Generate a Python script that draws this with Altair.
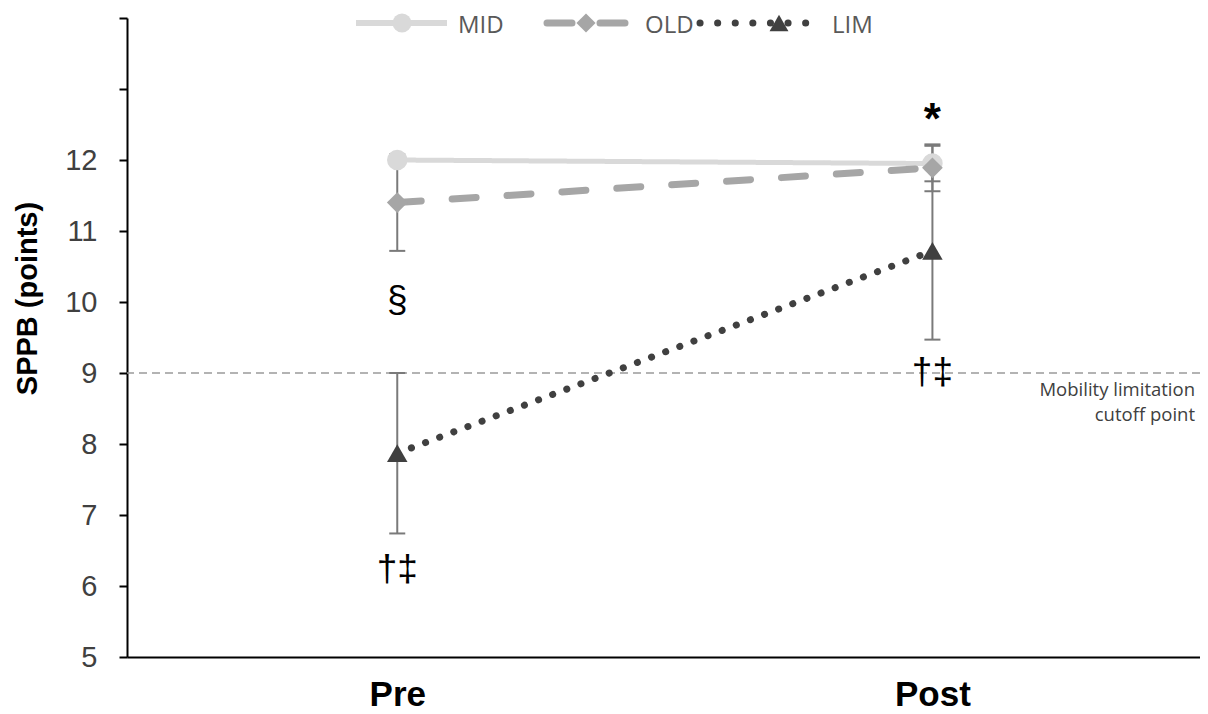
import altair as alt
import pandas as pd

# ---------------- data ----------------
groups = ["MID", "OLD", "LIM"]
time_labels = ["Pre", "Post"]
time_pos = [1, 2]
pre_mean = [12.0, 11.4, 7.87]
post_mean = [11.95, 11.89, 10.72]
pre_err = [0.0, 0.68, 1.13]
post_err = [0.25, 0.33, 1.25]

y_ticks = [5, 6, 7, 8, 9, 10, 11, 12, 13, 14]
cutoff_value = 9
cutoff_label = "Mobility limitation\ncutoff point"

annot_text = ["§", "†‡", "*", "†‡"]
annot_time = [1, 1, 2, 2]
annot_value = [10.02, 6.22, 12.55, 9.0]
annot_bold = [False, False, True, False]

# ---------------- styles ----------------
style = {
    "MID": dict(color="#d9d9d9", width=5, dash=[1, 0], cap="butt", shape="circle", size=420),
    "OLD": dict(color="#a6a6a6", width=7, dash=[24, 31], cap="round", shape="diamond", size=430),
    "LIM": dict(color="#404040", width=7, dash=[0.1, 15], cap="round", shape="triangle-up", size=420),
}

rows = []
for i, g in enumerate(groups):
    for t, m, e in ((time_pos[0], pre_mean[i], pre_err[i]), (time_pos[1], post_mean[i], post_err[i])):
        rows.append({"group": g, "t": t, "mean": m, "lo": m - e, "hi": m + e})
df = pd.DataFrame(rows)

ann = pd.DataFrame({"text": annot_text, "t": annot_time, "v": annot_value, "bold": annot_bold})

xs = alt.Scale(domain=[0.495, 2.5], nice=False, zero=False)
ys = alt.Scale(domain=[5, 14], nice=False, zero=False)

x_axis = alt.Axis(
    values=time_pos,
    labelExpr="datum.value == 1 ? 'Pre' : 'Post'",
    ticks=False, grid=False, title=None,
    domainColor="black", domainWidth=2,
    labelFont="Liberation Sans", labelFontSize=35, labelFontWeight="bold",
    labelColor="black", labelPadding=20,
)
y_axis = alt.Axis(
    values=y_ticks, format="d",
    labelExpr="datum.value <= 12 ? datum.label : ''",
    grid=False, title="SPPB (points)",
    domainColor="black", domainWidth=2,
    tickColor="black", tickWidth=2, tickSize=8,
    labelFont="Liberation Sans", labelFontSize=29, labelColor="#404040", labelPadding=22,
    titleFont="Liberation Sans", titleFontSize=29, titleFontWeight="bold", titleColor="black",
    titleX=-100, titleY=280, titleAngle=-90, titleAlign="center", titleBaseline="middle",
)

X = alt.X("t:Q", scale=xs, axis=x_axis)
Y = alt.Y("mean:Q", scale=ys, axis=y_axis)

base = alt.Chart(df)

cut_df = pd.DataFrame({"y": [cutoff_value], "t": [xs.domain[1]], "label": [cutoff_label]})
cut_rule = alt.Chart(cut_df).mark_rule(color="#9a9a9a", strokeDash=[8, 5], strokeWidth=1.5).encode(
    y=alt.Y("y:Q", scale=ys)
)
cut_text = alt.Chart(cut_df).mark_text(
    align="right", baseline="top", dx=-5, dy=8, fontSize=18.5, font="Open Sans",
    color="#404040", lineBreak="\n", lineHeight=25,
).encode(x=alt.X("t:Q", scale=xs), y=alt.Y("y:Q", scale=ys), text="label:N")

err_color = "#7a7a7a"
err_bar = base.mark_rule(color=err_color, strokeWidth=2).encode(
    x=X, y=alt.Y("lo:Q", scale=ys), y2="hi:Q"
)
cap_hi = base.mark_rule(color=err_color, strokeWidth=2, xOffset=-8, x2Offset=8).encode(
    x=alt.X("t:Q", scale=xs), x2="t:Q", y=alt.Y("hi:Q", scale=ys)
)
cap_lo = base.mark_rule(color=err_color, strokeWidth=2, xOffset=-8, x2Offset=8).encode(
    x=alt.X("t:Q", scale=xs), x2="t:Q", y=alt.Y("lo:Q", scale=ys)
)

lines = []
points = []
for g in groups:
    s = style[g]
    sub = alt.Chart(df[df.group == g])
    lines.append(sub.mark_line(color=s["color"], strokeWidth=s["width"], strokeDash=s["dash"],
                               strokeCap=s["cap"]).encode(x=X, y=Y))
    points.append(sub.mark_point(filled=True, shape=s["shape"], size=s["size"], color=s["color"],
                                 opacity=1).encode(x=X, y=Y))

ann_layers = []
for bold in (False, True):
    sub = ann[ann.bold == bold]
    ann_layers.append(
        alt.Chart(sub).mark_text(
            fontSize=44 if bold else 37, font="Liberation Sans",
            fontWeight="bold" if bold else "normal", color="black", baseline="middle", align="center",
        ).encode(
            x=alt.X("t:Q", scale=xs), y=alt.Y("v:Q", scale=ys), text="text:N",
        )
    )

# ---------------- manual legend (top) ----------------
leg_pos = {
    "MID": dict(x1=229, x2=320, xm=275, xt=331),
    "OLD": dict(x1=420, x2=498, xm=459, xt=518),
    "LIM": dict(x1=573, x2=688, xm=652, xt=705),
}
leg_dash = {"MID": [1, 0], "OLD": [25, 28], "LIM": [0.1, 17.5]}
leg_y = 5
legend_layers = []
for g in groups:
    s = style[g]
    p = leg_pos[g]
    gd = alt.Chart(pd.DataFrame({"group": [g]}))
    legend_layers.append(gd.mark_rule(color=s["color"], strokeWidth=6 if g == "MID" else 7,
                                      strokeDash=leg_dash[g], strokeCap=s["cap"]).encode(
        x=alt.value(p["x1"]), x2=alt.value(p["x2"]), y=alt.value(leg_y)))
    legend_layers.append(gd.mark_point(filled=True, shape=s["shape"], size=s["size"] * 0.85,
                                       color=s["color"], opacity=1).encode(
        x=alt.value(p["xm"]), y=alt.value(leg_y)))
    legend_layers.append(gd.mark_text(align="left", baseline="middle", fontSize=24, font="Open Sans",
                                      color="#595959").encode(
        x=alt.value(p["xt"]), y=alt.value(leg_y + 3), text="group:N"))

chart = alt.layer(
    cut_rule, cut_text, err_bar, cap_hi, cap_lo, *lines, *points, *ann_layers, *legend_layers
).properties(
    width=1073, height=639,
    padding={"left": 119, "top": 10, "right": 0, "bottom": 56},
    autosize=alt.AutoSizeParams(type="none"),
).configure_view(stroke=None)

chart.save("out.html", embed_options={"renderer": "svg", "actions": False})
